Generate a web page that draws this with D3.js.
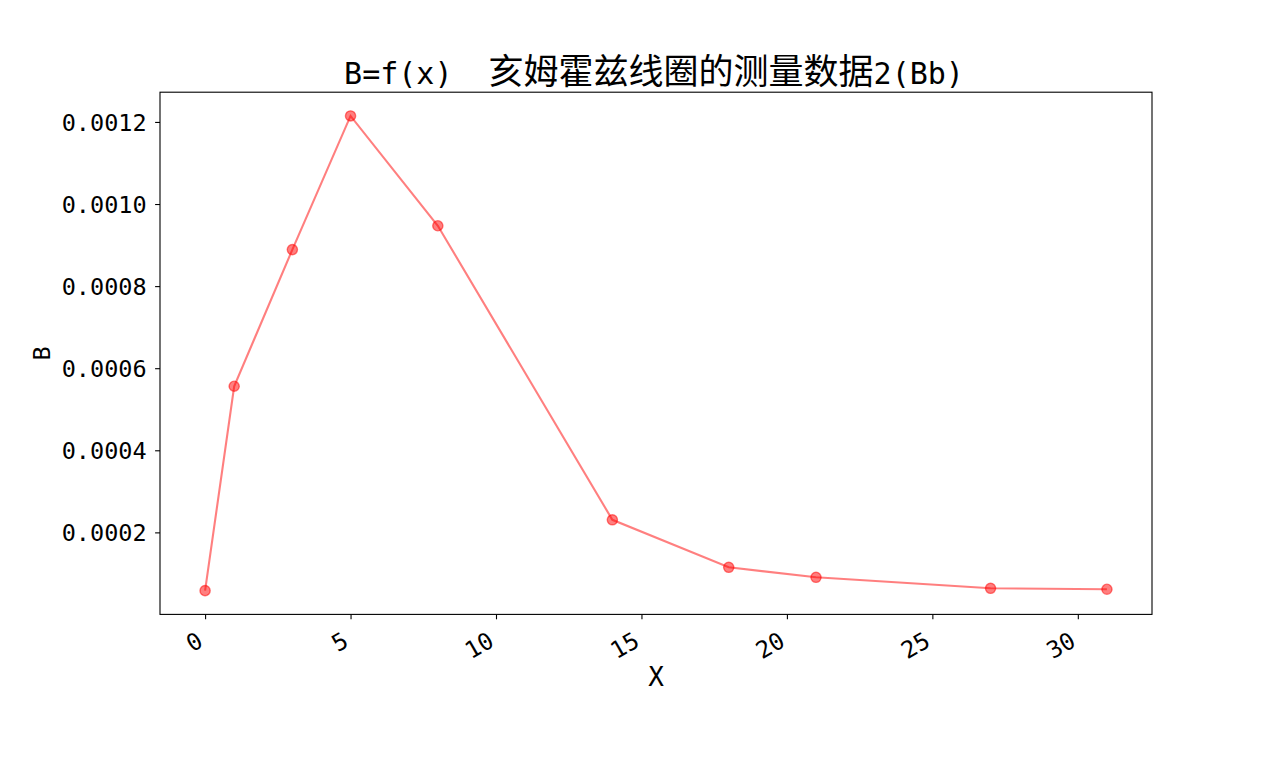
<!DOCTYPE html>
<html>
<head>
<meta charset="utf-8">
<script src="https://cdn.jsdelivr.net/npm/d3@7"></script>
<style>
  html, body { margin: 0; padding: 0; background: #fff; }
  svg { display: block; }
</style>
</head>
<body>
<script>
// ---- data ----
const xValues = [0, 1, 3, 5, 8, 14, 18, 21, 27, 31];
const bValues = [0.0000580, 0.000556, 0.000889, 0.0012146, 0.000947, 0.0002306, 0.0001149, 0.0000906, 0.0000638, 0.0000614];
const xTickValues = [0, 5, 10, 15, 20, 25, 30];
const yTickValues = [0.0002, 0.0004, 0.0006, 0.0008, 0.0010, 0.0012];
const titleLatinA = "B=f(x)\u00a0\u00a0";
const titleCJK = "亥姆霍兹线圈的测量数据";
const titleLatinB = "2(Bb)";
const xLabel = "X";
const yLabel = "B";

// ---- layout ----
const W = 1280, H = 768;
const mLeft = 160, mRight = 1152, mTop = 92.2, mBottom = 614.4;
const mono = "'DejaVu Sans Mono', 'Liberation Mono', monospace";
const cjk = "'Noto Sans CJK SC', 'Noto Sans', sans-serif";

const svg = d3.select("body").append("svg").attr("width", W).attr("height", H);

const xExt = d3.extent(xValues), yExt = d3.extent(bValues);
const xPad = (xExt[1] - xExt[0]) * 0.05, yPad = (yExt[1] - yExt[0]) * 0.05;
const x = d3.scaleLinear().domain([xExt[0] - xPad, xExt[1] + xPad]).range([mLeft, mRight]);
const y = d3.scaleLinear().domain([yExt[0] - yPad, yExt[1] + yPad]).range([mBottom, mTop]);

// axes
const xAxis = svg.append("g").attr("transform", `translate(0,${mBottom})`)
  .call(d3.axisBottom(x).tickValues(xTickValues).tickSize(4.9).tickPadding(0).tickFormat(d3.format("d")));
xAxis.select(".domain").remove();
xAxis.selectAll(".tick line").attr("stroke", "#000").attr("stroke-width", 1.1);
xAxis.selectAll(".tick text")
  .attr("font-family", mono).attr("font-size", 23.5).attr("fill", "#000")
  .attr("text-anchor", "end")
  .attr("y", 0).attr("dy", 0)
  .attr("transform", "translate(-1,31) rotate(-30)");

const yAxis = svg.append("g").attr("transform", `translate(${mLeft},0)`)
  .call(d3.axisLeft(y).tickValues(yTickValues).tickSize(4.9).tickPadding(8.5).tickFormat(d3.format(".4f")));
yAxis.select(".domain").remove();
yAxis.selectAll(".tick line").attr("stroke", "#000").attr("stroke-width", 1.1);
yAxis.selectAll(".tick text")
  .attr("font-family", mono).attr("font-size", 23.5).attr("fill", "#000")
  .attr("dy", "0.36em");

// frame
svg.append("rect").attr("x", mLeft).attr("y", mTop).attr("width", mRight - mLeft).attr("height", mBottom - mTop)
  .attr("fill", "none").attr("stroke", "#000").attr("stroke-width", 1.1);

// line + markers
const pts = xValues.map((v, i) => [v, bValues[i]]);
svg.append("path").datum(pts)
  .attr("d", d3.line().x(d => x(d[0])).y(d => y(d[1])))
  .attr("fill", "none").attr("stroke", "red").attr("stroke-opacity", 0.5).attr("stroke-width", 2.1);
const mk = svg.append("g");
mk.selectAll("circle.f").data(pts).join("circle")
  .attr("cx", d => x(d[0])).attr("cy", d => y(d[1])).attr("r", 5.1)
  .attr("fill", "red").attr("fill-opacity", 0.5).attr("stroke", "red").attr("stroke-opacity", 0.5).attr("stroke-width", 1.4);

// title
const t = svg.append("text").attr("x", (mLeft + mRight) / 2 - 2).attr("y", 84).attr("text-anchor", "middle").attr("fill", "#000");
t.append("tspan").attr("font-family", mono).attr("font-size", 30).text(titleLatinA);
t.append("tspan").attr("font-family", cjk).attr("font-size", 35).text(titleCJK);
t.append("tspan").attr("font-family", mono).attr("font-size", 30).text(titleLatinB);

// axis labels
svg.append("text").attr("x", (mLeft + mRight) / 2).attr("y", 686).attr("text-anchor", "middle")
  .attr("font-family", mono).attr("font-size", 26).attr("fill", "#000").text(xLabel);
svg.append("text").attr("transform", `translate(50,${(mTop + mBottom) / 2}) rotate(-90)`).attr("text-anchor", "middle")
  .attr("font-family", mono).attr("font-size", 23.5).attr("fill", "#000").text(yLabel);
</script>
</body>
</html>
